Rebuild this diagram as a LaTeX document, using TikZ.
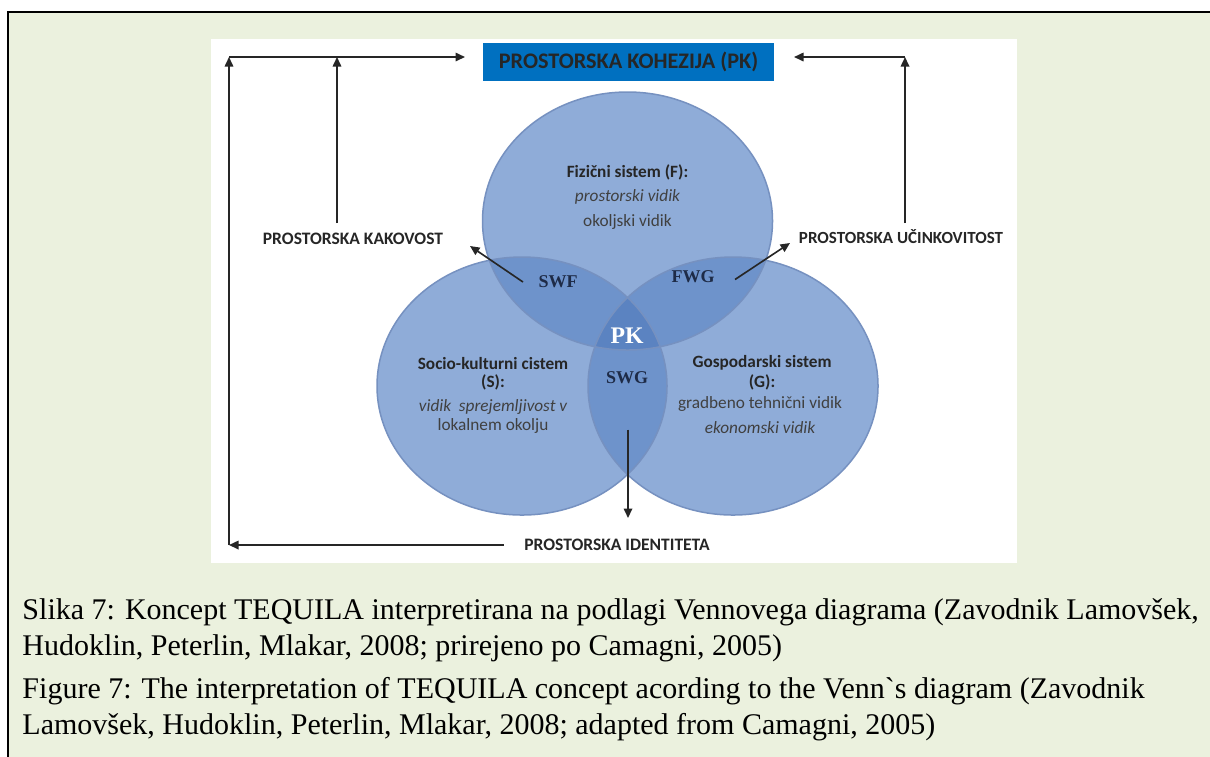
\documentclass[tikz,border=0pt]{standalone}
\usepackage{fontspec}
\setmainfont{Liberation Serif}
\newfontfamily\captionfont{Liberation Serif}
\newfontfamily\calibrifont{Carlito}
\usetikzlibrary{arrows.meta,shapes.geometric}

\definecolor{framegreen}{HTML}{EBF1DE}
\definecolor{cohesionblue}{HTML}{0070C0}
\definecolor{setfill}{HTML}{8FACD8}
\definecolor{pairfill}{HTML}{6E93CB}
\definecolor{corefill}{HTML}{5B83C1}
\definecolor{setrim}{HTML}{7691C0}
\definecolor{zonetext}{HTML}{1E2B47}

\tikzset{
  flow/.style={-{Triangle[length=3.8pt,width=3.4pt]}, line width=0.65pt, black!85},
  setshape/.style={ellipse, minimum width=116pt, minimum height=103.2pt, inner sep=0pt},
  setsize/.style={x radius=58pt, y radius=51.6pt},
  sidelabel/.style={font=\calibrifont\bfseries\fontsize{7}{8}\selectfont, text=black!85, inner sep=1pt},
  settitle/.style={font=\calibrifont\bfseries\fontsize{6.9}{8}\selectfont, text=black!85, inner sep=0pt},
  setitem/.style={font=\calibrifont\fontsize{6.9}{8}\selectfont, text=black!75, inner sep=0pt},
  setitemit/.style={setitem, font=\calibrifont\itshape\fontsize{6.9}{8}\selectfont},
  zone/.style={font=\captionfont\bfseries\fontsize{7.2}{8}\selectfont, text=zonetext, inner sep=1pt},
  captionline/.style={anchor=base west, font=\captionfont\fontsize{12}{14}\selectfont, inner sep=0pt},
}

\begin{document}
\begin{tikzpicture}[x=0.4pt, y=-0.4pt]
    \useasboundingbox (0,0) rectangle (1210,756);
    \clip (0,0) rectangle (1210,756);
    \fill[white] (0,0) rectangle (1210,756);
    \draw[fill=framegreen, line width=0.7pt] (8,12) rectangle (1260,800);
    \fill[white] (211,39) rectangle (1017,563);

    % the three systems
    \node[setshape, fill=setfill] (setS) at (522,386) {};
    \node[setshape, fill=setfill] (setG) at (733,386) {};
    \node[setshape, fill=setfill] (setF) at (627.5,221) {};
    \begin{scope}
        \clip (setF.center) ellipse [setsize];
        \fill[pairfill] (setS.center) ellipse [setsize];
        \fill[pairfill] (setG.center) ellipse [setsize];
    \end{scope}
    \begin{scope}
        \clip (setS.center) ellipse [setsize];
        \fill[pairfill] (setG.center) ellipse [setsize];
        \clip (setG.center) ellipse [setsize];
        \clip (setF.center) ellipse [setsize];
        \fill[corefill] (setF.center) ellipse [setsize];
    \end{scope}
    \foreach \s in {setS, setG, setF}
        \draw[setrim, line width=0.6pt] (\s.center) ellipse [setsize];

    \node[settitle] (fTitle) at (627.5,172) {Fizični sistem (F):};
    \node[setitemit] (fItemA) at (627.5,197) {prostorski vidik};
    \node[setitem] (fItemB) at (627.5,222) {okoljski vidik};

    \node[settitle] (sTitle) at (493,363) {Socio-kulturni cistem};
    \node[settitle] (sTitleB) at (493,382) {(S):};
    \node[setitemit] (sItemA) at (493,407) {vidik\ \ sprejemljivost v};
    \node[setitem] (sItemB) at (493,426) {lokalnem okolju};

    \node[settitle] (gTitle) at (762,363) {Gospodarski sistem};
    \node[settitle] (gTitleB) at (762,382) {(G):};
    \node[setitem] (gItemA) at (760,404) {gradbeno tehnični vidik};
    \node[setitemit] (gItemB) at (760,428) {ekonomski vidik};

    \node[zone] (swf) at (558,282) {SWF};
    \node[zone] (fwg) at (693,277) {FWG};
    \node[zone] (swg) at (627,378) {SWG};
    \node[zone, text=white, font=\captionfont\bfseries\fontsize{9.5}{10}\selectfont] (core) at (627,336) {PK};

    % cohesion box and the three qualities
    \node[fill=cohesionblue, minimum width=116.4pt, minimum height=15.2pt, inner sep=0pt,
          font=\calibrifont\bfseries\fontsize{8.9}{10}\selectfont, text=black!85] (kohezija) at (628.5,62) {PROSTORSKA KOHEZIJA (PK)};
    \node[sidelabel] (kakovost) at (353,239) {PROSTORSKA KAKOVOST};
    \node[sidelabel, font=\calibrifont\bfseries\fontsize{6.8}{8}\selectfont] (ucinkovitost) at (901,237) {PROSTORSKA UČINKOVITOST};
    \node[sidelabel] (identiteta) at (617,545) {PROSTORSKA IDENTITETA};

    \coordinate (outerTop) at (229,57);
    \coordinate (outerBottom) at (229,545);
    \coordinate (kakTop) at (337,57);
    \coordinate (kakFoot) at (337,223);
    \coordinate (ucTop) at (905,57);
    \coordinate (ucFoot) at (905,223);
    \coordinate (leftTip) at (465,57);
    \coordinate (rightTip) at (794,57);
    \coordinate (kakTip) at (470,246);
    \coordinate (ucTip) at (790,243);
    \coordinate (idTip) at (628,518);

    \draw[flow] ([xshift=-7pt]identiteta.west) -- (outerBottom);
    \draw[flow] (outerBottom) -- (outerTop);
    \draw[flow] (outerTop) -- (leftTip);
    \draw[flow] (kakFoot) -- (kakTop);
    \draw[flow] (ucFoot) -- (ucTop);
    \draw[flow] (ucTop) -- (rightTip);
    \draw[flow] ([xshift=-5pt]swf.west) -- (kakTip);
    \draw[flow] ([xshift=7pt,yshift=-1pt]fwg.east) -- (ucTip);
    \draw[flow] ([xshift=0.4pt,yshift=-17pt]swg.south) -- (idTip);

    % caption
    \node[captionline] (sloLineA) at (22,619) {Slika 7: Koncept TEQUILA interpretirana na podlagi Vennovega diagrama (Zavodnik Lamovšek,};
    \node[captionline] (sloLineB) at (22,655) {Hudoklin, Peterlin, Mlakar, 2008; prirejeno po Camagni, 2005)};
    \node[captionline] (engLineA) at (22,698) {Figure 7: The interpretation of TEQUILA concept acording to the Venn`s diagram (Zavodnik};
    \node[captionline] (engLineB) at (22,734) {Lamovšek, Hudoklin, Peterlin, Mlakar, 2008; adapted from Camagni, 2005)};
\end{tikzpicture}
\end{document}
